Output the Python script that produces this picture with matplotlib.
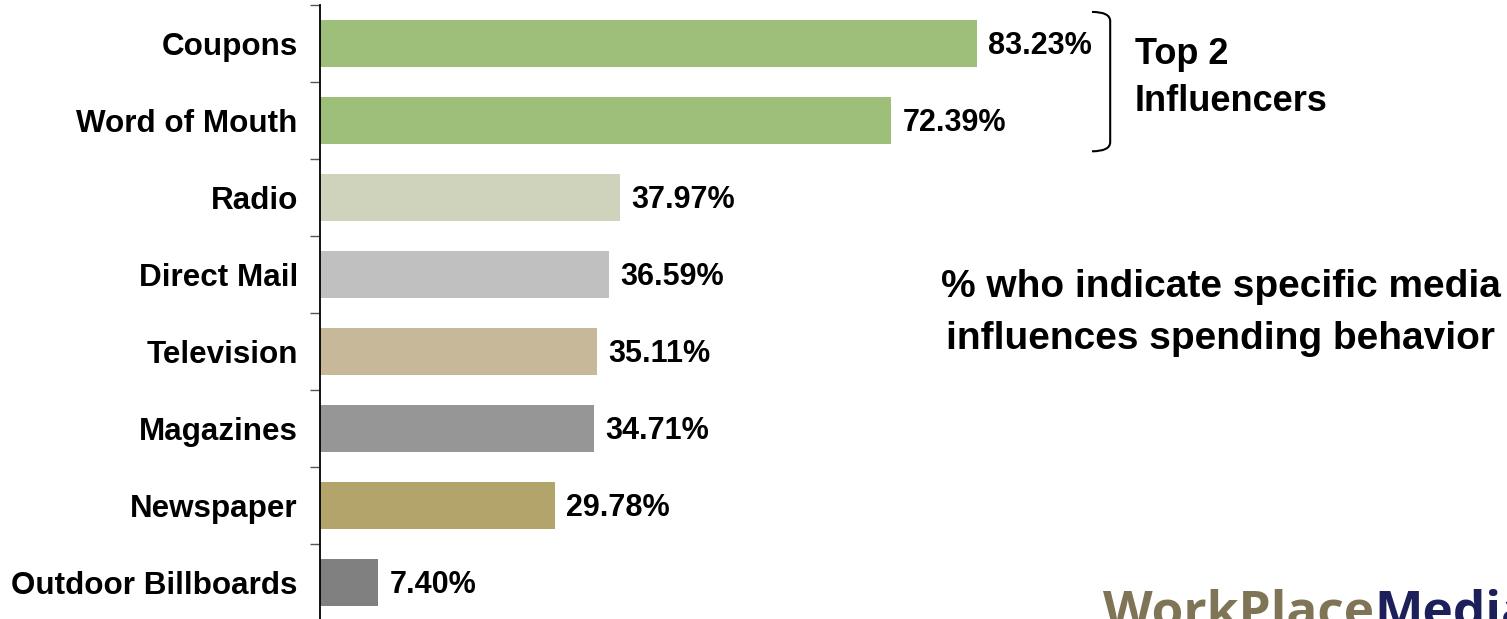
import matplotlib
matplotlib.use("Agg")
import matplotlib.pyplot as plt
from matplotlib.path import Path
from matplotlib.patches import PathPatch

plt.rcParams["font.family"] = ["Liberation Sans", "DejaVu Sans"]

categories = ["Coupons", "Word of Mouth", "Radio", "Direct Mail", "Television",
              "Magazines", "Newspaper", "Outdoor Billboards"]
values = [83.23, 72.39, 37.97, 36.59, 35.11, 34.71, 29.78, 7.40]
colors = ["#9dbf7a", "#9dbf7a", "#d0d3bc", "#c0c0c0", "#c6b899",
          "#969696", "#b3a46b", "#808080"]

W, H = 1507, 619
fig = plt.figure(figsize=(W / 100, H / 100), dpi=100)
# axes placed in pixel terms: left spine at x=320, top boundary at y=5
ax = fig.add_axes([320 / W, -2 / H, 789.4 / W, 616 / H])

y = list(range(len(categories)))
ax.barh(y, values, height=0.62, color=colors)
ax.set_xlim(0, 100)
ax.set_ylim(len(categories) - 0.5, -0.5)

for yi, v in zip(y, values):
    ax.annotate(f"{v:.2f}%", (v, yi), xytext=(8, -1.5), textcoords="offset points",
                va="center", ha="left", fontsize=22, fontweight="bold")

ax.set_yticks(y)
ax.set_yticklabels(categories, fontsize=22.6, fontweight="bold")
ax.set_yticks([i - 0.5 for i in y], minor=True)
ax.tick_params(axis="y", which="major", length=0, pad=16)
ax.tick_params(axis="y", which="minor", length=7, width=1, color="#555555")
ax.set_xticks([])
for s in ["top", "right", "bottom"]:
    ax.spines[s].set_visible(False)
ax.spines["left"].set_linewidth(1.3)

# bracket around top two bars
x0, x1 = 97.8, 100.1
ya, yb = -0.41, 1.40
r = 0.12
verts = [(x0, ya), (x1, ya), (x1, ya + r), (x1, yb - r), (x1, yb), (x0, yb)]
codes = [Path.MOVETO, Path.CURVE3, Path.CURVE3, Path.LINETO, Path.CURVE3, Path.CURVE3]
ax.add_patch(PathPatch(Path(verts, codes), fill=False, lw=1.5, clip_on=False))

fig.text(1135 / W, 1 - 78 / H, "Top 2\nInfluencers", fontsize=26, fontweight="bold",
         ha="left", va="center", linespacing=1.45)
fig.text(1221 / W, 1 - 313 / H, "% who indicate specific media\ninfluences spending behavior",
         fontsize=28, fontweight="bold", ha="center", va="center", linespacing=1.6)

# logo, cut off at the bottom edge
t1 = fig.text(1103 / W, -8 / H, "WorkPlace", fontsize=37, fontweight="bold",
              family="Open Sans", color="#7f7556", va="baseline", ha="left")
fig.canvas.draw()
bb = t1.get_window_extent()
fig.text(bb.x1 / W, -8 / H, "Media", fontsize=37, fontweight="bold",
         family="Open Sans", color="#1c1f5a", va="baseline", ha="left")

fig.savefig("out.png", dpi=100)
